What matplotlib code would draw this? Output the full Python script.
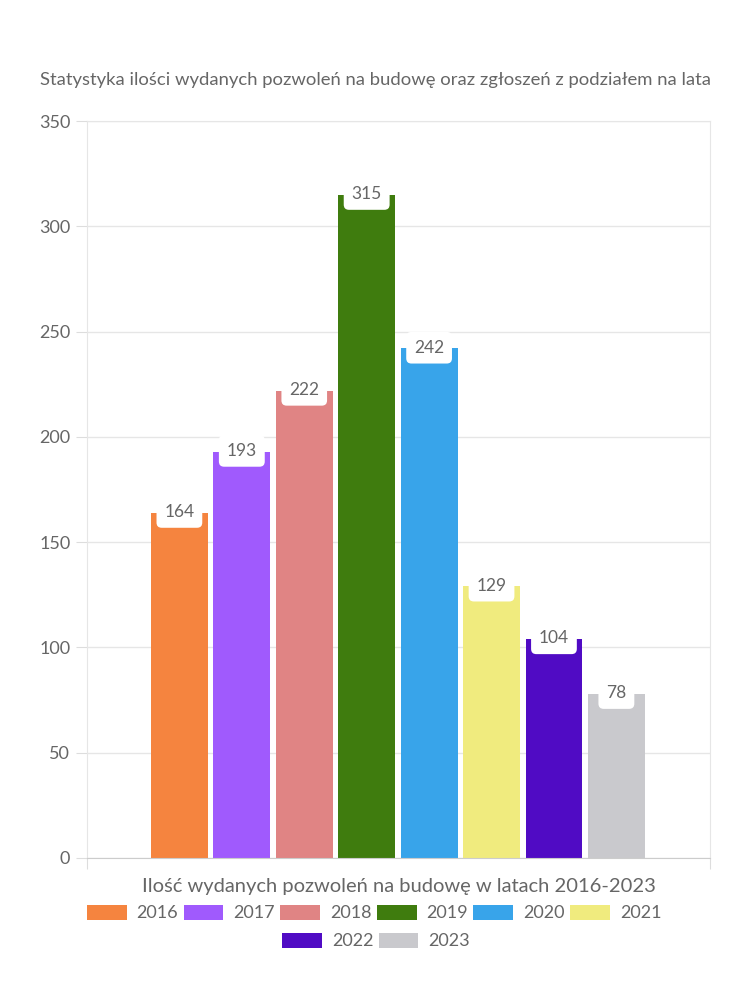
import matplotlib
matplotlib.use("Agg")
import matplotlib.pyplot as plt
from matplotlib.patches import Patch

years = ["2016", "2017", "2018", "2019", "2020", "2021", "2022", "2023"]
values = [164, 193, 222, 315, 242, 129, 104, 78]
colors = ["#F5843F", "#A05AFD", "#E08484", "#3F7C0E", "#38A4EA", "#F0EB7E", "#500BC4", "#C9C9CD"]
yticks = [0, 50, 100, 150, 200, 250, 300, 350]
title = "Statystyka ilości wydanych pozwoleń na budowę oraz zgłoszeń z podziałem na lata"
xlabel = "Ilość wydanych pozwoleń na budowę w latach 2016-2023"

plt.rcParams['font.family'] = ['Lato', 'DejaVu Sans']
TXT = "#666666"

fig = plt.figure(figsize=(7.5, 10), dpi=100)
ax = fig.add_axes([0.116, 0.142, 0.8307, 0.737])

xs = list(range(len(values)))
ax.bar(xs, values, width=0.91, color=colors, zorder=2)
ax.set_xlim(-1.48, len(values) - 1 + 1.5)
ax.set_ylim(0, 350)
ax.set_yticks(yticks)
ax.set_yticklabels([str(t) for t in yticks], fontsize=13, color=TXT)
ax.tick_params(axis='y', length=8, color="#dddddd", pad=4)
ax.set_xticks([-1.48, len(values) - 1 + 1.5])
ax.set_xticklabels(["", ""])
ax.tick_params(axis='x', length=8, color="#dddddd")
ax.grid(axis='y', color="#e6e6e6", linewidth=1, zorder=0)
for s in ["left", "right", "top"]:
    ax.spines[s].set_color("#e6e6e6")
ax.spines["bottom"].set_color("#cccccc")

for x, v in zip(xs, values):
    ax.annotate(str(v), (x, v), xytext=(0, 0.5), textcoords="offset points",
                ha="center", va="center", fontsize=12.5, color=TXT, zorder=3,
                bbox=dict(boxstyle="round,pad=0.45,rounding_size=0.3", fc="white", ec="none"))

ax.set_xlabel(xlabel, fontsize=14.5, color=TXT, labelpad=3)
fig.text(0.5, 0.92, title, ha="center", va="center", fontsize=13.3, color=TXT)

handles = [Patch(facecolor=c, edgecolor='none') for c in colors]
kw = dict(frameon=False, fontsize=13, handlelength=2.2, handleheight=0.95,
          handletextpad=0.55, columnspacing=0.3, labelcolor=TXT, borderpad=0, borderaxespad=0)
fig.legend(handles[:6], years[:6], loc="center", bbox_to_anchor=(0.4987, 0.087), ncol=6, **kw)
fig.legend(handles[6:], years[6:], loc="center", bbox_to_anchor=(0.5013, 0.059), ncol=2, **kw)

fig.savefig("out.png", dpi=100)
